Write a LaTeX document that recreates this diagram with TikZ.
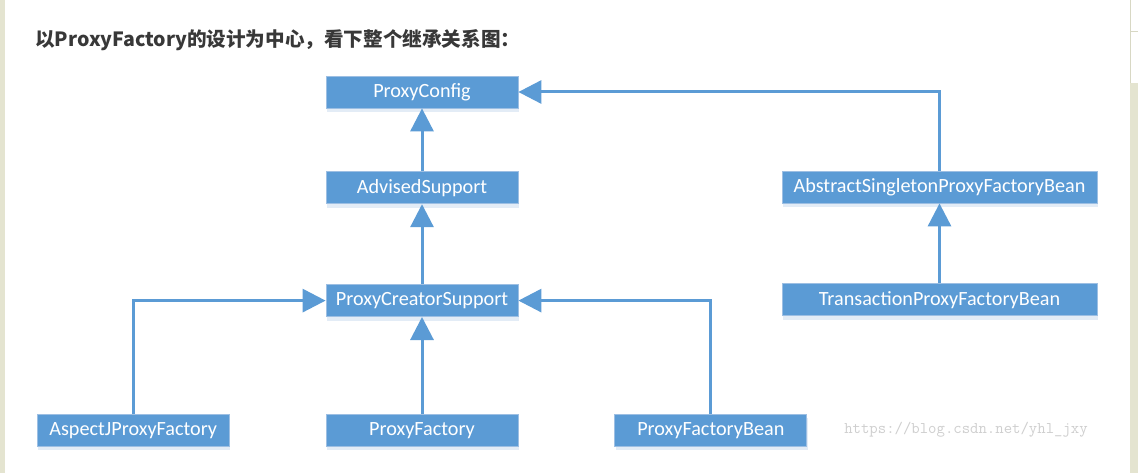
\documentclass[tikz,border=0pt]{standalone}
\usepackage{fontspec}
\setmainfont{Carlito}
\newfontfamily\cjk{Noto Sans CJK SC}
\usetikzlibrary{positioning}
\usetikzlibrary{arrows.meta}
\usetikzlibrary{shadows}
\definecolor{boxblue}{HTML}{5B9BD5}
\definecolor{boxedge}{HTML}{9DBFE3}
\definecolor{shadowblue}{HTML}{DDE8F4}
\definecolor{titlegray}{HTML}{383838}
\definecolor{markgray}{HTML}{CFCFCF}
\definecolor{pagebeige}{HTML}{E4E4D0}
\definecolor{pageline}{HTML}{D8D8C4}
\tikzset{
        classnode/.style={align=center,inner sep=0pt},
        % Boxes of the class diagram
        class_box/.style={classnode, rectangle, fill=boxblue, draw=boxedge, line width=0.8pt, text=white,
            font=\fontsize{20.2}{24}\selectfont, minimum height=32pt,
            drop shadow={shadow xshift=1pt, shadow yshift=-4pt, fill=shadowblue, opacity=0.8}},
        % Short class names
        class_narrow/.style={class_box, minimum width=192pt},
        % Long class names
        class_wide/.style={class_box, minimum width=315pt},
        % Inheritance arrows
        inherit/.style={draw=boxblue, line width=3pt, -{Triangle[width=23pt,length=23pt]}}
}
\begin{document}
\begin{tikzpicture}[x=1pt, y=-1pt]
    \useasboundingbox (0,0) rectangle (1138,473);
    % page
    \fill[white] (0,0) rectangle (1138,473);
    \fill[pagebeige] (0,0) rectangle (5,473);
    \fill[pagebeige] (1130,83) rectangle (1138,473);
    \draw[pageline, line width=1pt] (1130,0) -- (1130,83);
    \draw[pageline, line width=1pt] (1130,32) -- (1138,32);

    \node[classnode, anchor=west, text=titlegray, font=\cjk\bfseries\fontsize{19.6}{22}\selectfont] (title) at (35,40)
        {以ProxyFactory的设计为中心，看下整个继承关系图：};

    \node[class_narrow] (config) at (422,92) {ProxyConfig};
    \node[class_narrow] (advised) [below=63pt of config] {AdvisedSupport};
    \node[class_narrow] (creator) [below=80pt of advised] {ProxyCreatorSupport};
    \node[class_narrow] (factory) [below=97pt of creator] {ProxyFactory};
    \node[class_narrow] (aspectj) [left=96pt of factory] {AspectJProxyFactory};
    \node[class_narrow] (factorybean) [right=96pt of factory] {ProxyFactoryBean};
    \node[class_wide] (abstract) at (939.5,187) {AbstractSingletonProxyFactoryBean};
    \node[class_wide] (transaction) [below=80pt of abstract] {TransactionProxyFactoryBean};

    \draw[inherit] (advised) -- (config);
    \draw[inherit] (creator) -- (advised);
    \draw[inherit] (factory) -- (creator);
    \draw[inherit] (aspectj) |- (creator);
    \draw[inherit] (factorybean) |- (creator);
    \draw[inherit] (transaction) -- (abstract);
    \draw[inherit] (abstract) |- (config);

    \node[classnode, text=markgray, font=\ttfamily\fontsize{16.3}{18}\selectfont] (mark) at (966,430)
        {https://blog.csdn.net/yhl\_jxy};
\end{tikzpicture}
\end{document}
